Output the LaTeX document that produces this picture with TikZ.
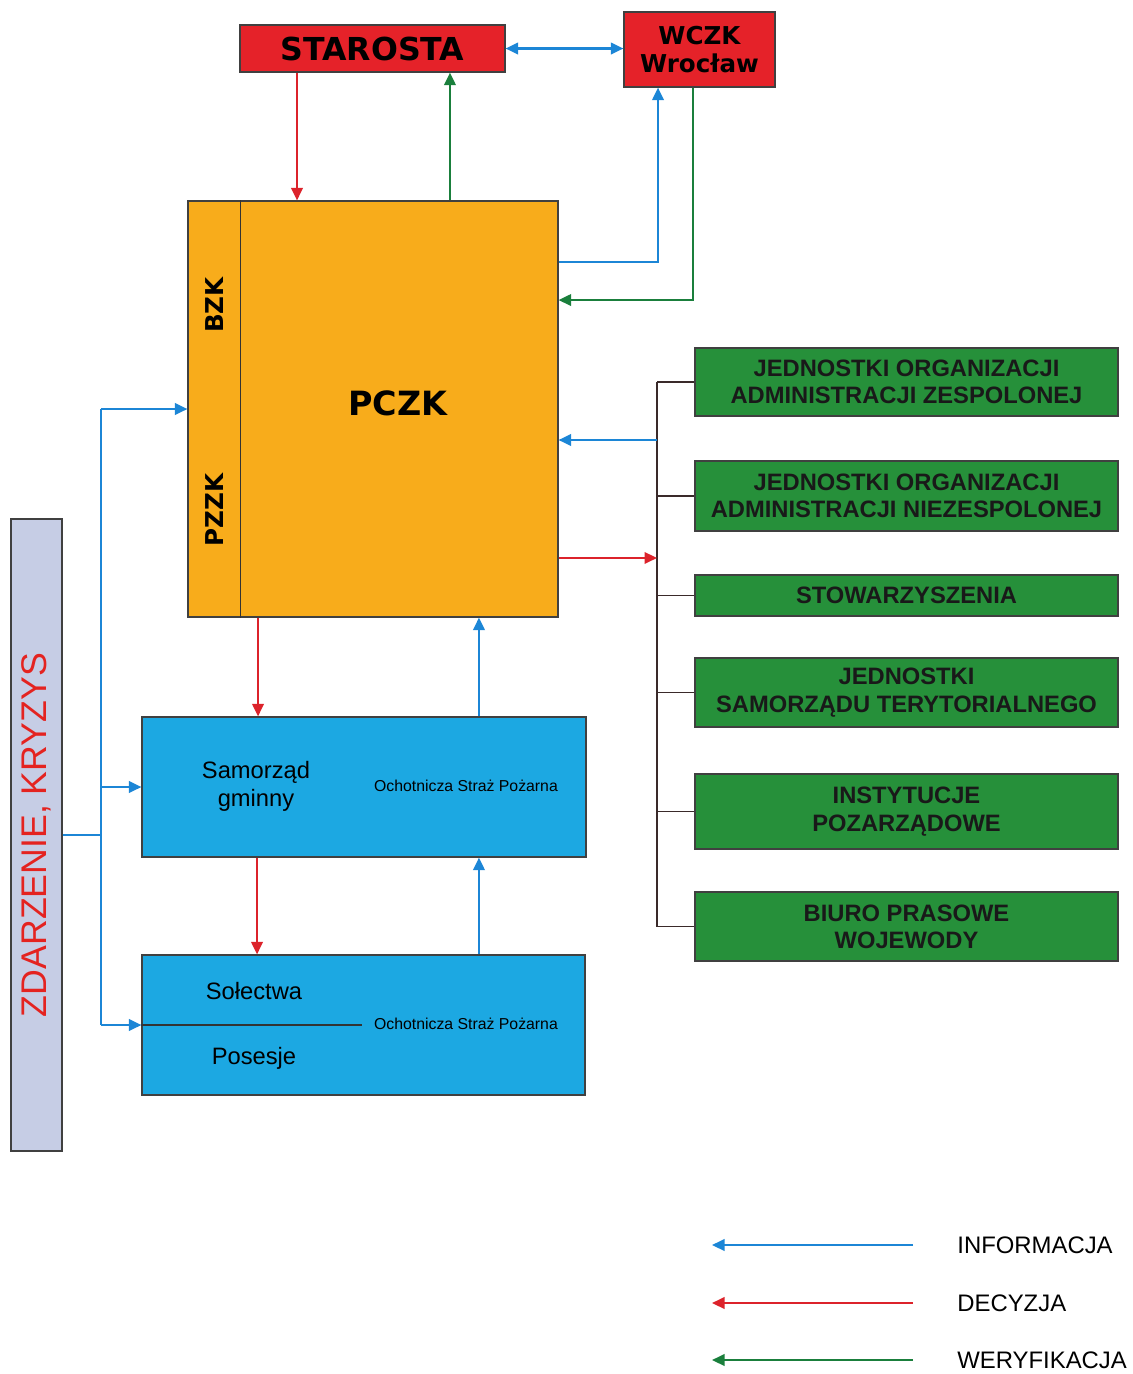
\documentclass[tikz,border=0pt]{standalone}
\usepackage{fontspec}
\setmainfont{Liberation Sans}
\newfontfamily\headfont{DejaVu Sans}
\usetikzlibrary{arrows.meta}
\definecolor{boxred}{HTML}{E52229}
\definecolor{boxorange}{HTML}{F8AC1B}
\definecolor{boxblue}{HTML}{1CA8E2}
\definecolor{boxgreen}{HTML}{26903A}
\definecolor{boxgrey}{HTML}{C6CDE5}
\definecolor{zdred}{HTML}{E42320}
\definecolor{infoblue}{HTML}{1C86D6}
\definecolor{decred}{HTML}{DC232B}
\definecolor{vergreen}{HTML}{1A7F3C}
\definecolor{busgrey}{HTML}{3A2A2A}
\tikzset{
	box/.style={draw=black!75, line width=0.7pt, inner sep=0pt},
	redbx/.style={box, fill=boxred},
	orangebx/.style={box, fill=boxorange},
	bluebx/.style={box, fill=boxblue},
	greenbx/.style={box, fill=boxgreen, minimum width=8.46cm, align=center, text=black!90, font=\bfseries\fontsize{13.5}{15.5}\selectfont},
	infoline/.style={draw=infoblue, line width=1.2pt},
	info/.style={infoline, ->},
	decision/.style={draw=decred, line width=1.2pt, ->},
	verify/.style={draw=vergreen, line width=1.2pt, ->},
	busline/.style={draw=busgrey, line width=1pt},
	divline/.style={draw=black!80, line width=0.8pt},
	legtext/.style={anchor=west, inner sep=0pt, font=\fontsize{13.6}{15}\selectfont},
}

\begin{document}
\begin{tikzpicture}[x=0.02cm, y=-0.02cm, >={Triangle[length=2.5mm,width=2.3mm]}]
		%%%%% START %%%%%
		\useasboundingbox (0,0) rectangle (1133,1374);
		
		% top
		\node[redbx, minimum width=5.3cm, minimum height=0.94cm, font=\headfont\bfseries\fontsize{18}{20}\selectfont] (starosta) at (372.5,48.5) {STAROSTA};
		\node[redbx, minimum width=3.02cm, minimum height=1.5cm, align=center, font=\headfont\bfseries\fontsize{14}{16}\selectfont] (wczk) at (699.5,49.5) {WCZK\\Wrocław};
		
		% PCZK
		\node[orangebx, minimum width=7.4cm, minimum height=8.32cm] (pczk) at (373,409) {};
		\draw[divline] ([xshift=1.06cm]pczk.north west) -- ([xshift=1.06cm]pczk.south west);
		\node[font=\headfont\bfseries\fontsize{19}{21}\selectfont] (pczklabel) at (398,403) {PCZK};
		\node[rotate=90, font=\headfont\bfseries\fontsize{14}{16}\selectfont] (bzk) at (215,305) {BZK};
		\node[rotate=90, font=\headfont\bfseries\fontsize{14}{16}\selectfont] (pzzk) at (215,510) {PZZK};
		
		% gmina
		\node[bluebx, minimum width=8.88cm, minimum height=2.8cm] (samorzad) at (364,787) {};
		\node[align=center, font=\fontsize{13.5}{16}\selectfont] (gmina) at (256,786) {Samorząd\\gminny};
		\node[font=\fontsize{9}{11}\selectfont] (osp1) at (466,786) {Ochotnicza Straż Pożarna};
		
		\node[bluebx, minimum width=8.86cm, minimum height=2.8cm] (solectwa) at (363.5,1025) {};
		\draw[divline] (solectwa.west) -- ++(221,0);
		\node[font=\fontsize{13.5}{16}\selectfont] (solectwalabel) at (254,991) {Sołectwa};
		\node[font=\fontsize{13.5}{16}\selectfont] (posesje) at (254,1058) {Posesje};
		\node[font=\fontsize{9}{11}\selectfont] (osp2) at (466,1024) {Ochotnicza Straż Pożarna};
		
		% zdarzenie
		\node[box, fill=boxgrey, minimum width=1.02cm, minimum height=12.64cm] (zdarzenie) at (36.5,835) {};
		\node[rotate=90, text=zdred, font=\fontsize{20.3}{22}\selectfont] (zdtext) at (zdarzenie.center) {ZDARZENIE, KRYZYS};
		
		% right column
		\node[greenbx, minimum height=1.36cm] (jozesp) at (906.5,382) {JEDNOSTKI ORGANIZACJI\\ADMINISTRACJI ZESPOLONEJ};
		\node[greenbx, minimum height=1.4cm] (joniezesp) at (906.5,496) {JEDNOSTKI ORGANIZACJI\\ADMINISTRACJI NIEZESPOLONEJ};
		\node[greenbx, minimum height=0.82cm] (stow) at (906.5,595.5) {STOWARZYSZENIA};
		\node[greenbx, minimum height=1.38cm] (jst) at (906.5,692.5) {JEDNOSTKI\\SAMORZĄDU TERYTORIALNEGO};
		\node[greenbx, minimum height=1.5cm] (ngo) at (906.5,811.5) {INSTYTUCJE\\POZARZĄDOWE};
		\node[greenbx, minimum height=1.38cm] (biuro) at (906.5,926.5) {BIURO PRASOWE\\WOJEWODY};
		
		% connectors top
		\draw[info, <->] (starosta.east) -- (starosta.east -| wczk.west);
		\draw[decision] ([xshift=-1.51cm]starosta.south) -- ([xshift=-1.51cm]starosta.south |- pczk.north);
		\draw[verify] ([xshift=1.54cm]pczk.north) -- ([xshift=1.54cm]pczk.north |- starosta.south);
		\coordinate (pinfotop) at ([yshift=2.94cm]pczk.east);
		\coordinate (pvertop) at ([yshift=2.18cm]pczk.east);
		\draw[info] (pinfotop) -| ([xshift=-0.83cm]wczk.south);
		\draw[verify] ([xshift=-0.13cm]wczk.south) |- (pvertop);
		
		% connectors down
		\draw[decision] ([xshift=-2.3cm]pczk.south) -- ([xshift=-2.3cm]pczk.south |- samorzad.north);
		\draw[info] ([xshift=2.3cm]samorzad.north) -- ([xshift=2.3cm]samorzad.north |- pczk.south);
		\draw[decision] ([xshift=-2.14cm]samorzad.south) -- ([xshift=-2.14cm]samorzad.south |- solectwa.north);
		\draw[info] ([xshift=2.31cm]solectwa.north) -- ([xshift=2.31cm]solectwa.north |- samorzad.south);
		
		% left bus
		\coordinate (lbus) at (101,835);
		\draw[infoline] (zdarzenie.east) -- (lbus);
		\draw[infoline] (pczk.west -| lbus) -- (solectwa.west -| lbus);
		\draw[info] (pczk.west -| lbus) -- (pczk.west);
		\draw[info] (samorzad.west -| lbus) -- (samorzad.west);
		\draw[info] (solectwa.west -| lbus) -- (solectwa.west);
		
		% right bus
		\coordinate (rbus) at (657,383);
		\draw[busline] (jozesp.west -| rbus) -- (biuro.west -| rbus);
		\foreach \b in {jozesp,joniezesp,stow,jst,ngo,biuro}
			\draw[busline] (\b.west -| rbus) -- (\b.west);
		\coordinate (pinforight) at ([yshift=-0.62cm]pczk.east);
		\coordinate (pdecright) at ([yshift=-2.98cm]pczk.east);
		\draw[info] (pinforight -| rbus) -- (pinforight);
		\draw[decision] (pdecright) -- (pdecright -| rbus);
		
		% legend
		\node[legtext] (linfo) at (957,1245) {INFORMACJA};
		\node[legtext] (ldec) at (957,1303) {DECYZJA};
		\node[legtext] (lver) at (957,1360) {WERYFIKACJA};
		\draw[info] ([xshift=-0.88cm]linfo.west) -- ++(-201,0);
		\draw[decision] ([xshift=-0.88cm]ldec.west) -- ++(-201,0);
		\draw[verify] ([xshift=-0.88cm]lver.west) -- ++(-201,0);
		
		%%%%% END %%%%%
	\end{tikzpicture}
\end{document}
